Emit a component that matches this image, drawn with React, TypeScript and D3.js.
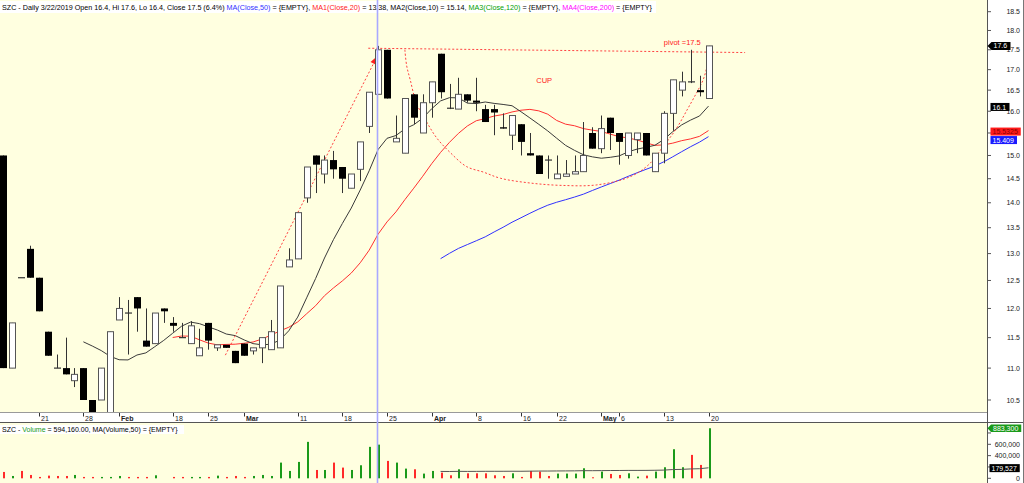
import * as d3 from 'd3';

const W = 1024;
const H = 483;
const FONT = 'Liberation Sans, Arial, sans-serif';

// daily candles (index 0 = first visible bar)
const opens = [
  15.0, 11.0, 12.55, 13.09, 12.55, 11.6, 11.0, 11.0, 10.8, 11.0,
  10.5, 10.5, 10.25, 11.8, 11.92, 12.2, 11.45, 11.4, 12.0, 11.75,
  11.5, 11.4, 11.2, 11.75, 11.33, 11.38, 11.28, 11.4, 11.28, 11.33,
  11.3, 11.33, 12.75, 12.9, 14.1, 15.0, 14.6, 14.9, 14.75, 14.3,
  14.7, 15.65, 16.4, 17.5, 15.3, 15.05, 16.4, 15.5, 16.2, 17.4,
  16.07, 16.05, 16.4, 16.25, 16.05, 16.05, 15.63, 15.45, 15.7, 15.05,
  15.0, 14.9, 14.5, 14.55, 14.6, 14.65, 15.5, 15.15, 15.85, 15.5,
  15.0, 15.35, 15.5, 14.65, 15.05, 15.95, 16.5, 16.7, 16.5, 16.3,
];
const highs = [
  15.0, 11.75, 12.55, 13.15, 12.55, 11.6, 11.22, 11.5, 11.0, 11.0,
  10.5, 11.0, 11.6, 12.2, 12.15, 12.2, 12.0, 11.92, 12.0, 11.85,
  11.75, 11.78, 11.65, 11.75, 11.38, 11.38, 11.28, 11.4, 11.33, 11.5,
  11.8, 12.4, 13.1, 13.8, 14.75, 15.0, 15.0, 15.1, 14.75, 14.6,
  15.3, 16.45, 17.6, 17.5, 15.9, 16.3, 16.4, 16.4, 16.7, 17.4,
  16.65, 16.8, 16.4, 16.8, 16.15, 16.15, 15.95, 15.9, 15.7, 15.5,
  15.0, 15.0, 15.0, 14.9, 15.0, 15.75, 15.63, 15.9, 15.85, 15.5,
  15.5, 15.5, 15.5, 15.05, 16.0, 16.75, 16.95, 17.5, 16.85, 17.6,
];
const lows = [
  11.0, 11.0, 12.55, 12.55, 11.95, 11.2, 11.0, 10.9, 10.7, 10.5,
  10.3, 10.5, 10.25, 11.8, 11.22, 11.6, 11.35, 11.4, 11.75, 11.6,
  11.5, 11.4, 11.2, 11.3, 11.28, 11.33, 11.08, 11.2, 11.22, 11.08,
  11.3, 11.33, 12.75, 12.9, 14.0, 14.2, 14.4, 14.5, 14.2, 14.3,
  14.45, 15.5, 16.4, 16.3, 15.3, 15.05, 15.7, 15.5, 15.85, 16.3,
  16.05, 16.05, 16.2, 16.0, 15.75, 15.45, 15.6, 15.12, 15.0, 15.0,
  14.6, 14.5, 14.5, 14.55, 14.6, 14.65, 15.15, 15.05, 15.12, 14.8,
  14.93, 15.05, 15.0, 14.65, 14.83, 15.55, 16.35, 16.67, 16.35, 16.3,
];
const closes = [
  11.0, 11.75, 12.55, 12.55, 11.95, 11.2, 11.0, 10.9, 10.9, 10.5,
  10.3, 11.0, 11.6, 12.0, 11.92, 12.0, 11.35, 11.92, 11.95, 11.7,
  11.5, 11.7, 11.33, 11.45, 11.38, 11.33, 11.08, 11.2, 11.33, 11.5,
  11.6, 12.4, 12.88, 13.8, 14.75, 14.8, 14.9, 14.7, 14.5, 14.6,
  15.3, 16.45, 17.5, 16.3, 15.38, 16.3, 15.85, 16.2, 16.7, 16.45,
  16.07, 16.4, 16.25, 16.2, 15.75, 15.97, 15.6, 15.9, 15.3, 15.0,
  14.6, 14.9, 14.6, 14.6, 14.65, 15.0, 15.15, 15.6, 15.5, 15.3,
  15.5, 15.5, 15.0, 15.05, 15.95, 16.75, 16.7, 16.7, 16.45, 17.6,
];
const volumes = [
  112000, 41000, 130000, 59000, 24000, 47000, 41000, 41000, 59000, 24000,
  24000, 24000, 24000, 41000, 24000, 24000, 24000, 53000, 0, 24000,
  24000, 24000, 24000, 24000, 47000, 24000, 41000, 24000, 41000, 59000,
  41000, 277000, 130000, 289000, 643000, 147000, 147000, 277000, 189000, 147000,
  230000, 555000, 594160, 307000, 277000, 171000, 159000, 83000, 130000, 100000,
  53000, 159000, 88000, 88000, 88000, 53000, 41000, 88000, 24000, 130000,
  118000, 41000, 83000, 83000, 83000, 177000, 18000, 118000, 77000, 59000,
  88000, 30000, 47000, 118000, 195000, 513000, 195000, 413000, 236000, 883300,
];

// date axis: bar index of each label
const dateTickIdx = [4, 9, 13, 19, 23, 27, 33, 38, 43, 48, 53, 58, 62, 67, 69, 74, 79];
const dateTickText = ['21', '28', 'Feb', '18', '25', 'Mar', '11', '18', '25', 'Apr', '8', '16', '22', 'May', '6', '13', '20'];
const monthLabels = ['Feb', 'Mar', 'Apr', 'May'];

const priceTicks = [10.5, 11, 11.5, 12, 12.5, 13, 13.5, 14, 14.5, 15, 15.5, 16, 16.5, 17, 17.5, 18, 18.5];
const volTicks = [0, 200000, 400000, 600000, 800000];

// last-value tags on the right axis
const priceTagValues = [17.6, 16.1, 15.5325, 15.409];
const priceTagText = ['17.6', '16.1', '15.5325', '15.409'];
const volTagValues = [883300, 179527];
const volTagText = ['883,300', '179,527'];

// hand-drawn annotations, in (bar index, price)
const riseLine: [number, number][] = [[24.9, 11.21], [41.8, 17.29]];
const pivotLine: [number, number][] = [[40.9, 17.54], [83.1, 17.43]];
const cupPoints: [number, number][] = [
  [45.0, 17.5], [45.2, 17.1], [45.6, 16.75], [46.3, 16.19], [47.5, 15.73], [48.6, 15.38],
  [50.1, 15.06], [51.9, 14.76], [53.8, 14.64], [55.7, 14.51], [59.0, 14.41], [62.5, 14.36],
  [66.5, 14.37], [70.2, 14.54], [72.3, 14.8], [73.9, 15.19], [75.4, 15.6], [76.6, 16.03],
  [77.7, 16.45], [78.4, 16.75], [78.9, 17.15], [79.2, 17.55],
];

const PLOT_R = 987;
const MAIN_B = 412;

function sma(arr: number[], n: number) {
  return arr.map((_, i) => (i < n - 1 ? null : d3.mean(arr.slice(i - n + 1, i + 1)) as number));
}

const tagWidth = (t: string) => t.length * 3.75 + 4;

export default function App() {
  const x = d3.scaleLinear().domain([0, 79]).range([3, 708.5]);
  const y = d3.scaleLog().domain([10.5, 18.5]).range([400, 11.7]);
  const yv = d3.scaleLinear().domain([0, 600000]).range([478.3, 444.3]);

  const idx = d3.range(closes.length);
  const maLine = d3
    .line<number | null>()
    .defined((d) => d != null)
    .x((_, i) => x(i))
    .y((d) => y(d as number));
  const volMaLine = d3
    .line<number | null>()
    .defined((d) => d != null)
    .x((_, i) => x(i))
    .y((d) => yv(d as number));
  const annLine = d3.line<[number, number]>().x((d) => x(d[0])).y((d) => y(d[1]));
  const cupLine = d3
    .line<[number, number]>()
    .x((d) => x(d[0]))
    .y((d) => y(d[1]))
    .curve(d3.curveCatmullRom);

  const ma10 = sma(closes, 10);
  const ma20 = sma(closes, 20);
  const ma50 = sma(closes, 50);
  const vma50 = sma(volumes, 50);

  const vx = Math.round(x(42)) - 0.5;

  // arrowhead at the end of the rising dotted line
  const [a0, a1] = riseLine;
  const ex = x(a1[0]);
  const ey = y(a1[1]);
  const ang = Math.atan2(ey - y(a0[1]), ex - x(a0[0]));
  const ah = (d: number, s: number) =>
    `${ex + Math.cos(ang + s) * d},${ey + Math.sin(ang + s) * d}`;
  const arrow = `${ah(2, 0)} ${ah(7, Math.PI - 0.5)} ${ah(7, Math.PI + 0.5)}`;

  // price tags, pushed down when they overlap
  const tagColors = ['#000', '#000', '#ff1a1a', '#1a1aff'];
  const tagTextColors = ['#fff', '#fff', '#8a0000', '#fff'];
  let lastBottom = -Infinity;
  const priceTags = priceTagValues.map((v, i) => {
    let cy = y(v);
    if (cy - 4 < lastBottom) cy = lastBottom + 4.5;
    lastBottom = cy + 4;
    const x0 = i === 0 ? 991.5 : 990.5;
    return { cy, x0, w: tagWidth(priceTagText[i]), text: priceTagText[i], fill: tagColors[i], color: tagTextColors[i], arrow: i === 0 };
  });
  const volTags = volTagValues.map((v, i) => {
    const cy = Math.max(428, yv(v));
    const x0 = i === 0 ? 991 : 989.5;
    return { cy, x0, w: tagWidth(volTagText[i]), text: volTagText[i] };
  });

  // an axis label that sits fully under a wide tag is not shown (as in the reference)
  const hidden = (ty: number, tags: { cy: number; x0: number; w: number }[]) =>
    tags.some((t) => Math.abs(t.cy - ty) < 5 && t.x0 + t.w > 1012);

  return (
    <svg
      width={W}
      height={H}
      viewBox={`0 0 ${W} ${H}`}
      style={{ position: 'absolute', left: 0, top: 0, display: 'block' }}
      fontFamily={FONT}
    >
      <defs>
        <clipPath id="mainClip">
          <rect x={0} y={0} width={PLOT_R} height={MAIN_B} />
        </clipPath>
        <clipPath id="volClip">
          <rect x={0} y={423} width={PLOT_R} height={60} />
        </clipPath>
      </defs>

      {/* backgrounds */}
      <rect x={0} y={0} width={W} height={H} fill="#fff" />
      <rect x={0} y={0} width={PLOT_R} height={MAIN_B} fill="#ffffe0" />
      <rect x={0} y={423} width={PLOT_R} height={60} fill="#ffffe0" />
      <line x1={0} x2={PLOT_R} y1={412.5} y2={412.5} stroke="#9a9a9a" />
      <line x1={0} x2={W} y1={422.5} y2={422.5} stroke="#555" />
      <line x1={PLOT_R + 0.5} x2={PLOT_R + 0.5} y1={0} y2={H} stroke="#555" />
      <line x1={1023.5} x2={1023.5} y1={0} y2={H} stroke="#777" />

      {/* main panel */}
      <g clipPath="url(#mainClip)">
        <path d={maLine(ma50) ?? ''} fill="none" stroke="#3030ff" strokeWidth={1} />
        <path d={maLine(ma20) ?? ''} fill="none" stroke="#ff3030" strokeWidth={1} />
        <path d={maLine(ma10) ?? ''} fill="none" stroke="#3a3a3a" strokeWidth={1} />

        <path d={annLine(riseLine) ?? ''} fill="none" stroke="#ff4040" strokeDasharray="2,2" />
        <polygon points={arrow} fill="#ff2020" />
        <path d={annLine(pivotLine) ?? ''} fill="none" stroke="#ff4040" strokeDasharray="2,2" />
        <path d={cupLine(cupPoints) ?? ''} fill="none" stroke="#ff4040" strokeDasharray="2,2" />

        {idx.map((i) => {
          const o = opens[i];
          const c = closes[i];
          const cx = Math.round(x(i)) + 0.5;
          const top = y(Math.max(o, c));
          const bot = y(Math.min(o, c));
          const doji = Math.abs(o - c) < 0.005;
          return (
            <g key={i}>
              <line x1={cx} x2={cx} y1={y(highs[i])} y2={y(lows[i])} stroke="#333" />
              {doji ? (
                <line x1={cx - 3.5} x2={cx + 3.5} y1={top} y2={top} stroke="#333" strokeWidth={1.2} />
              ) : c > o ? (
                <rect x={cx - 3} y={top} width={6} height={Math.max(1, bot - top)} fill="#fff" stroke="#555" />
              ) : (
                <rect x={cx - 3.5} y={top} width={7} height={Math.max(1, bot - top)} fill="#000" />
              )}
            </g>
          );
        })}

        <text x={x(60.6)} y={y(16.67)} fill="#ff2020" fontSize={7.5} textAnchor="middle">CUP</text>
        <text x={x(74.0)} y={y(17.62)} fill="#ff2020" fontSize={7.5}>pivot =17.5</text>
      </g>

      {/* header */}
      <rect x={0} y={1} width={656} height={12} fill="#fff" />
      <text x={2} y={10} fontSize={7.2} fill="#000">
        <tspan>SZC - Daily 3/22/2019 Open 16.4, Hi 17.6, Lo 16.4, Close 17.5 (6.4%) </tspan>
        <tspan fill="#3030ff">MA(Close,50)</tspan>
        <tspan> = {'{EMPTY}'}, </tspan>
        <tspan fill="#ff2020">MA1(Close,20)</tspan>
        <tspan> = 13.38, MA2(Close,10) = 15.14, </tspan>
        <tspan fill="#00a000">MA3(Close,120)</tspan>
        <tspan> = {'{EMPTY}'}, </tspan>
        <tspan fill="#ff00ff">MA4(Close,200)</tspan>
        <tspan> = {'{EMPTY}'}</tspan>
      </text>

      {/* price axis */}
      {priceTicks.map((t) => (
        <g key={t}>
          <line x1={PLOT_R + 1} x2={PLOT_R + 4} y1={y(t)} y2={y(t)} stroke="#555" />
          {!hidden(y(t), priceTags) && (
            <text x={1020} y={y(t) + 2.5} fontSize={7} textAnchor="end" fill="#222">
              {d3.format('.1f')(t)}
            </text>
          )}
        </g>
      ))}
      {priceTags.map((t, i) => (
        <g key={i}>
          {t.arrow ? (
            <polygon
              points={`987.5,${t.cy} ${t.x0},${t.cy - 4} ${t.x0 + t.w},${t.cy - 4} ${t.x0 + t.w},${t.cy + 4} ${t.x0},${t.cy + 4}`}
              fill={t.fill}
            />
          ) : (
            <rect x={t.x0} y={t.cy - 4} width={t.w} height={8} fill={t.fill} />
          )}
          <text x={t.x0 + 2} y={t.cy + 2.6} fontSize={7} fill={t.color}>{t.text}</text>
        </g>
      ))}

      {/* date axis */}
      {dateTickIdx.map((d, i) => {
        const tx = Math.round(x(d)) + 0.5;
        const bold = monthLabels.includes(dateTickText[i]);
        return (
          <g key={i}>
            <line x1={tx} x2={tx} y1={413} y2={416.5} stroke="#333" />
            <text x={tx + 1.5} y={420.5} fontSize={7} fontWeight={bold ? 'bold' : 'normal'} fill="#222">
              {dateTickText[i]}
            </text>
          </g>
        );
      })}

      {/* volume panel */}
      <g clipPath="url(#volClip)">
        {idx.map((i) => (
          <rect
            key={i}
            x={Math.round(x(i))}
            y={yv(volumes[i])}
            width={2}
            height={yv(0) - yv(volumes[i])}
            fill={closes[i] > opens[i] ? '#1a9a1a' : '#ff2a2a'}
          />
        ))}
        <path d={volMaLine(vma50) ?? ''} fill="none" stroke="#555" strokeWidth={1} />
      </g>
      <rect x={0} y={425} width={184} height={9} fill="#fff" />
      <text x={2} y={432} fontSize={7} fill="#000">
        <tspan>SZC - </tspan>
        <tspan fill="#1a9a1a">Volume</tspan>
        <tspan> = 594,160.00, MA(Volume,50) = {'{EMPTY}'}</tspan>
      </text>

      {volTicks.map((t) => (
        <g key={t}>
          <line x1={PLOT_R + 1} x2={PLOT_R + 4} y1={yv(t)} y2={yv(t)} stroke="#555" />
          {!hidden(yv(t), volTags) && (
            <text x={1020} y={yv(t) + 2.5} fontSize={7} textAnchor="end" fill="#222">
              {d3.format(',')(t)}
            </text>
          )}
        </g>
      ))}
      {volTags.map((t, i) => (
        <g key={i}>
          {i === 0 ? (
            <polygon
              points={`987.5,${t.cy} ${t.x0},${t.cy - 3.8} ${t.x0 + t.w},${t.cy - 3.8} ${t.x0 + t.w},${t.cy + 3.8} ${t.x0},${t.cy + 3.8}`}
              fill="#1a9a1a"
            />
          ) : (
            <rect x={t.x0} y={t.cy - 4} width={t.w} height={8} fill="#000" />
          )}
          <text x={t.x0 + 2} y={t.cy + 2.6} fontSize={7} fill="#fff">{t.text}</text>
        </g>
      ))}

      {/* marker for 3/22 */}
      <line x1={vx} x2={vx} y1={0} y2={H} stroke="#a8a8ff" strokeWidth={1.6} />
    </svg>
  );
}
